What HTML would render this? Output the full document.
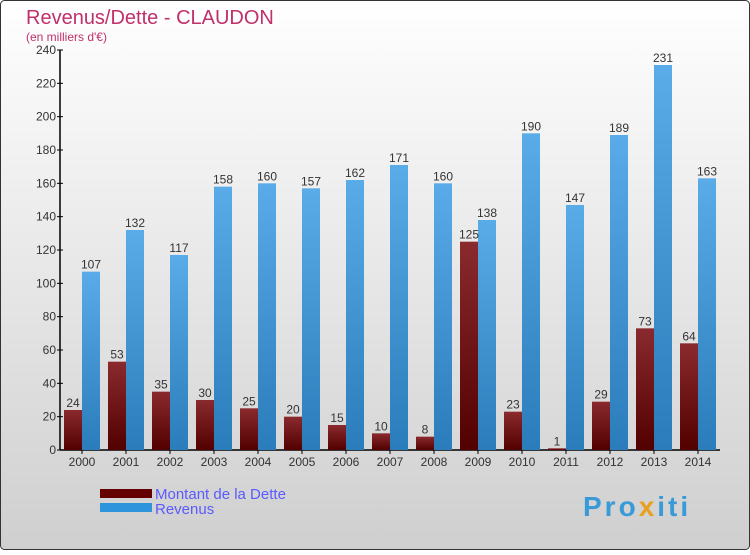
<!DOCTYPE html>
<html><head><meta charset="utf-8"><style>
body{margin:0;width:750px;height:550px;overflow:hidden;font-family:"Liberation Sans",sans-serif}
</style></head><body>
<svg width="750" height="550" xmlns="http://www.w3.org/2000/svg">
<defs>
<linearGradient id="bg" x1="0" y1="0" x2="0" y2="1"><stop offset="0" stop-color="#ffffff"/><stop offset="1" stop-color="#cfcfcf"/></linearGradient>
<linearGradient id="gd" x1="0" y1="0" x2="0" y2="1"><stop offset="0" stop-color="#8a2a2e"/><stop offset="1" stop-color="#520000"/></linearGradient>
<linearGradient id="gr" x1="0" y1="0" x2="0" y2="1"><stop offset="0" stop-color="#5aace8"/><stop offset="1" stop-color="#2a7cba"/></linearGradient>
</defs>
<rect x="0.5" y="0.5" width="749" height="549" rx="4" fill="url(#bg)" stroke="#333"/>
<text x="26" y="24" font-size="20" fill="#c0306a">Revenus/Dette - CLAUDON</text>
<text x="26" y="41" font-size="12" fill="#c0306a">(en milliers d'€)</text>
<g id="ax"></g>
<g id="bars"></g>
<rect x="100" y="489" width="52" height="9" fill="#650000"/>
<rect x="100" y="503" width="52" height="9" fill="#2e95dc"/>
<text x="155" y="499" font-size="15" fill="#5a5aff">Montant de la Dette</text>
<text x="155" y="514" font-size="15" fill="#5a5aff">Revenus</text>
<text x="583" y="516" font-size="28" font-weight="bold" letter-spacing="3" fill="#3a9ad8">Pro<tspan fill="#e8a020">x</tspan>iti</text>
</svg>
<script>
const years=["2000","2001","2002","2003","2004","2005","2006","2007","2008","2009","2010","2011","2012","2013","2014"];
const dette=[24,53,35,30,25,20,15,10,8,125,23,1,29,73,64];
const revenus=[107,132,117,158,160,157,162,171,160,138,190,147,189,231,163];
const ticks=[0,20,40,60,80,100,120,140,160,180,200,220,240];
const NS="http://www.w3.org/2000/svg";
const y=v=>450-v*400/240, x0=i=>82+i*44;
function mk(t,a,p){const e=document.createElementNS(NS,t);for(const k in a)e.setAttribute(k,a[k]);p.appendChild(e);return e;}
const ax=document.getElementById('ax'),bars=document.getElementById('bars');
let l=mk('line',{x1:60,y1:y(240),x2:60,y2:450,stroke:'#000','stroke-width':1.5},ax);


l=mk('line',{x1:60,y1:450,x2:720,y2:450,stroke:'#000','stroke-width':1.5},ax);


ticks.forEach(t=>{mk('line',{x1:57,x2:63,y1:y(t),y2:y(t),stroke:'#000'},ax);
const e=mk('text',{x:56,y:y(t)+4,'font-size':12,'text-anchor':'end',fill:'#333'},ax);e.textContent=t;

});
years.forEach((yr,i)=>{const c=x0(i);
mk('line',{x1:c,x2:c,y1:450,y2:454,stroke:'#000'},ax);
const t=mk('text',{x:c,y:466,'font-size':12,'text-anchor':'middle',fill:'#333'},ax);t.textContent=yr;


const b1=mk('rect',{x:c-18,y:y(dette[i]),width:18,height:450-y(dette[i]),fill:'url(#gd)'},bars);


const b2=mk('rect',{x:c,y:y(revenus[i]),width:18,height:450-y(revenus[i]),fill:'url(#gr)'},bars);


const t1=mk('text',{x:c-9,y:y(dette[i])-3,'font-size':12,'text-anchor':'middle',fill:'#333'},bars);t1.textContent=dette[i];


const t2=mk('text',{x:c+9,y:y(revenus[i])-3,'font-size':12,'text-anchor':'middle',fill:'#333'},bars);t2.textContent=revenus[i];


});
</script>
</body></html>
